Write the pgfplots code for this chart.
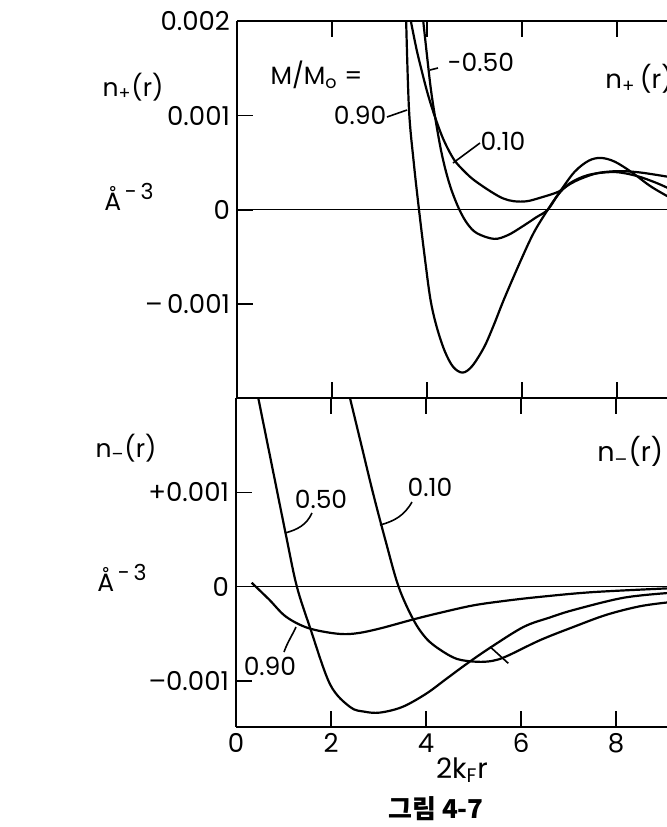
\documentclass[border=0pt]{standalone}
\usepackage{fontspec}
\setmainfont{Poppins}
\newfontfamily\kr{Noto Sans CJK KR}
\usepackage{pgfplots}
\pgfplotsset{compat=1.18}

\pgfplotsset{
  panel/.style={
    scale only axis,
    width=215.5pt,
    xmin=0, xmax=9.07,
    axis y line*=left,
    axis line style={line width=1pt},
    major tick style={line width=0.9pt, black},
    major tick length=8pt,
    tick align=inside,
    xtick={0,2,4,6,8},
    scaled y ticks=false,
    tick label style={font=\fontsize{13}{15}\selectfont},
  },
  curve/.style={black, mark=none, line width=1.1pt, smooth, tension=0.55},
  zero/.style={black, mark=none, line width=0.7pt},
}
\newcommand{\ang}{Å\raisebox{0.85ex}{\fontsize{11}{12}\selectfont\,-\,3}}

\begin{document}
\begin{tikzpicture}

% upper panel: n_+(r)
\begin{axis}[panel,
  at={(118.5pt,-199pt)}, anchor=south west,
  height=188.3pt,
  ymin=-0.002, ymax=0.002,
  ytick={-0.001,0,0.001,0.002},
  yticklabels={--\,0.001, 0, 0.001, 0.002},
  xticklabels={},
]
\addplot[zero] coordinates {(0,0) (9.07,0)};
% 0.90
\addplot[curve] coordinates {
  (3.56,0.0020) (3.62,0.00106) (3.72,0.00050) (3.83,0.0) (3.95,-0.00050)
  (4.07,-0.00095) (4.20,-0.00124) (4.37,-0.00150) (4.55,-0.00167) (4.75,-0.00173)
  (4.95,-0.00166) (5.20,-0.00146) (5.40,-0.00123) (5.62,-0.00095) (5.98,-0.00053)
  (6.25,-0.00024) (6.54,0.0) (6.78,0.00018) (7.10,0.00040) (7.40,0.00052)
  (7.66,0.00055) (7.95,0.00051) (8.30,0.00040) (8.70,0.00025) (9.07,0.00014)
};
% 0.10
\addplot[curve] coordinates {
  (3.66,0.0020) (3.78,0.00170) (3.90,0.00145) (4.02,0.00122) (4.17,0.00098)
  (4.35,0.00074) (4.57,0.00053) (4.80,0.00040) (5.00,0.00031) (5.35,0.00019)
  (5.60,0.00012) (5.83,0.00009) (6.10,0.00009) (6.40,0.00013) (6.76,0.00019)
  (7.00,0.00027) (7.24,0.00033) (7.60,0.00039) (8.02,0.00041) (8.40,0.00040)
  (8.70,0.00038) (9.07,0.00035)
};
% -0.50
\addplot[curve] coordinates {
  (3.92,0.0020) (4.00,0.00163) (4.08,0.00128) (4.17,0.00098) (4.29,0.00064)
  (4.40,0.00040) (4.52,0.00020) (4.68,0.0) (4.85,-0.00015) (5.05,-0.00025)
  (5.41,-0.00031) (5.70,-0.00027) (6.00,-0.00018) (6.30,-0.00008) (6.54,0.0)
  (6.76,0.00016) (7.00,0.00028) (7.40,0.00037) (7.94,0.00040) (8.40,0.00036)
  (8.80,0.00029) (9.07,0.00023)
};
\end{axis}

% lower panel: n_-(r)
\begin{axis}[panel,
  at={(118pt,-363.35pt)}, anchor=south west,
  height=164.2pt,
  ymin=-0.00149, ymax=0.002,
  ytick={-0.001,0,0.001},
  yticklabels={--0.001, 0, +0.001},
  xticklabels={0,2,4,6,8},
]
\addplot[zero] coordinates {(0,0) (9.07,0)};
% 0.50
\addplot[curve] coordinates {
  (0.47,0.0020) (0.67,0.0015) (0.87,0.0010) (1.07,0.0005) (1.28,0.0)
  (1.56,-0.00044) (1.98,-0.00104) (2.40,-0.00128) (2.70,-0.00133) (3.03,-0.00134)
  (3.50,-0.00128) (4.00,-0.00114) (4.43,-0.00098) (4.86,-0.00082) (5.35,-0.00065)
  (6.05,-0.00043) (6.60,-0.00033) (7.10,-0.00025) (8.15,-0.00012) (9.07,-0.00007)
};
% 0.10
\addplot[curve] coordinates {
  (2.40,0.0020) (2.64,0.0015) (2.88,0.0010) (3.14,0.0005) (3.42,0.0)
  (3.73,-0.00035) (4.00,-0.00055) (4.29,-0.00067) (4.65,-0.00077) (5.07,-0.00080)
  (5.40,-0.00079) (5.70,-0.00074) (6.40,-0.00057) (7.10,-0.00043) (7.80,-0.00030)
  (8.50,-0.00021) (9.07,-0.00017)
};
% 0.90
\addplot[curve] coordinates {
  (0.33,0.00004) (0.70,-0.00014) (1.05,-0.00032) (1.51,-0.00044) (2.10,-0.00050)
  (2.50,-0.00050) (3.00,-0.00045) (3.73,-0.00035) (4.29,-0.00028)
  (5.00,-0.00020) (5.70,-0.00015) (6.40,-0.00011) (7.50,-0.00006) (9.07,-0.00002)
};
\end{axis}

% annotations, in picture points (0.5pt per reference pixel)
\begin{scope}[font=\fontsize{12.5}{14}\selectfont, line width=0.8pt]
\node at (66.5pt,-43.5pt) {n\textsubscript{+}(r)};
\node at (64.5pt,-98.5pt) {\ang};
\node at (63pt,-224pt) {n\textsubscript{--}(r)};
\node at (61pt,-289pt) {\ang};

\node at (158.25pt,-37.5pt) {M/M\textsubscript{o} =};
\node at (240.5pt,-31pt) {-0.50};
\draw (215pt,-35pt) -- (219pt,-34pt);
\node at (180pt,-57.5pt) {0.90};
\draw (193.5pt,-58.5pt) -- (203.5pt,-55pt);
\node at (251.5pt,-70.5pt) {0.10};
\draw (226.5pt,-81.5pt) -- (240pt,-71.5pt);
\node[anchor=west, font=\fontsize{13}{15}\selectfont] at (299pt,-39.5pt) {n\textsubscript{+}\,(r)};

\node[anchor=west, font=\fontsize{13.5}{15}\selectfont] at (295pt,-225.8pt) {n\textsubscript{--}(r)};
\node at (160.5pt,-249.5pt) {0.50};
\draw (142.5pt,-266.5pt) to[out=15,in=-115] (156pt,-256.5pt);
\node at (215pt,-243.5pt) {0.10};
\draw (190pt,-262.5pt) to[out=15,in=-120] (206pt,-251pt);
\node at (135pt,-333pt) {0.90};
\draw (142pt,-326pt) to[out=70,in=-115] (148pt,-313.5pt);
\draw (245pt,-323.35pt) -- (254.15pt,-331.65pt);

\node[font=\fontsize{14}{16}\selectfont] at (231pt,-385pt) {2k\textsubscript{F}r};
\node[font=\kr\bfseries\fontsize{13}{15}\selectfont] at (218pt,-404.5pt) {그림 4-7};
\end{scope}

\pgfresetboundingbox
\useasboundingbox (0,0) rectangle (333.5pt,-413.5pt);
\end{tikzpicture}
\end{document}
